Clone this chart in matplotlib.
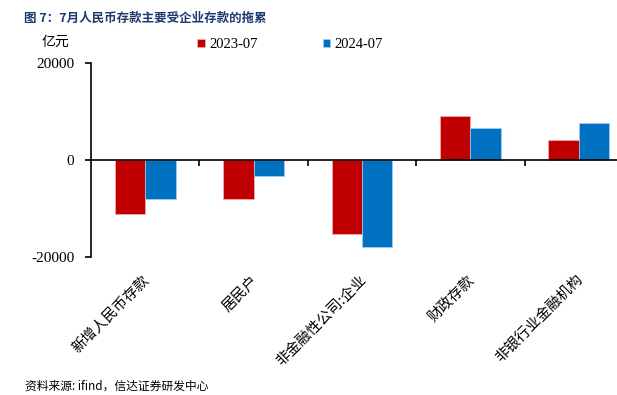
import matplotlib
matplotlib.use('Agg')
import matplotlib.pyplot as plt
import matplotlib.transforms as mtransforms
import numpy as np

plt.rcParams['font.family'] = ['Liberation Serif', 'Noto Sans CJK SC']
plt.rcParams['axes.unicode_minus'] = False

categories = ['新增人民币存款', '居民户', '非金融性公司:企业', '财政存款', '非银行业金融机构']
series_names = ['2023-07', '2024-07']
vals_2023 = [-11100, -8100, -15300, 9100, 4100]
vals_2024 = [-8000, -3300, -17900, 6500, 7600]
yticks = [-20000, 0, 20000]

W, H = 617, 395
fig = plt.figure(figsize=(W / 100, H / 100), dpi=100)
ax = fig.add_axes([91 / W, 1 - 257 / H, 542 / W, 194 / H])

x = np.arange(len(categories))
w = 0.28
b1 = ax.bar(x - w / 2, vals_2023, w, color='#C00000', edgecolor='#F0B0B0', linewidth=0.5,
            label=series_names[0])
b2 = ax.bar(x + w / 2, vals_2024, w, color='#0070C0', edgecolor='#A8D0F0', linewidth=0.5,
            label=series_names[1])

ax.set_xlim(-0.5, len(categories) - 0.5)
ax.set_ylim(-20000, 20000)
ax.set_yticks(yticks)
ax.set_yticklabels([str(v) for v in yticks], fontsize=11)

ax.spines['top'].set_visible(False)
ax.spines['right'].set_visible(False)
ax.spines['bottom'].set_position(('data', 0))
for s in ['left', 'bottom']:
    ax.spines[s].set_linewidth(1.2)
    ax.spines[s].set_color('black')

ax.set_xticks(np.arange(len(categories)) + 0.5)
ax.set_xticklabels([])
ax.tick_params(axis='x', direction='out', length=4, width=1.2)
ax.tick_params(axis='y', direction='out', length=4, width=1.2, pad=8)

# category labels below the plot
trans = mtransforms.blended_transform_factory(ax.transData, fig.transFigure)
for xi, lab in zip(x, categories):
    ax.text(xi + 0.02, 1 - 278 / H, lab, transform=trans, rotation=45,
            rotation_mode='anchor', ha='right', va='center',
            fontsize=10.5, family=['Noto Sans CJK SC'])

leg = fig.legend(handles=[b1, b2], loc='center', bbox_to_anchor=(290 / W, 1 - 45 / H),
                 ncol=2, frameon=False, fontsize=10.5, handlelength=0.5, handleheight=0.5,
                 handletextpad=0.3, columnspacing=4.5)

fig.text(24 / W, 1 - 18 / H, '图 7：7月人民币存款主要受企业存款的拖累', fontsize=9,
         fontweight='bold', color='#1F3A6E', va='center', ha='left',
         family=['Noto Sans CJK SC'])
fig.text(42 / W, 1 - 42 / H, '亿元', fontsize=10, va='center', ha='left',
         family=['Noto Sans CJK SC'])
fig.text(25 / W, 2 / H, '资料来源: ifind，信达证券研发中心', fontsize=8.5, va='bottom', ha='left',
         style='italic', family=['Noto Sans CJK SC'])

fig.savefig('out.png', dpi=100)
